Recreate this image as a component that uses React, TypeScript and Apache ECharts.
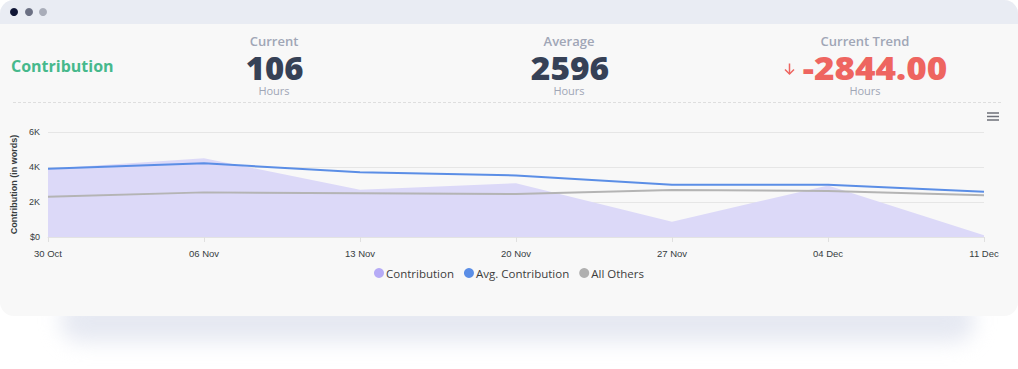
import React, { useEffect, useRef } from "react";
import * as echarts from "echarts";

const categories = ["30 Oct", "06 Nov", "13 Nov", "20 Nov", "27 Nov", "04 Dec", "11 Dec"];
const contribution = [3900, 4500, 2700, 3070, 870, 2950, 106];
const avgContribution = [3900, 4210, 3700, 3520, 2990, 2990, 2590];
const allOthers = [2300, 2550, 2500, 2460, 2680, 2630, 2380];
const yTicks = [0, 2000, 4000, 6000];

const kpis = [
  { label: "Current", value: "106", cx: 274, vx: 274.5, sx: 1.06, color: "#364156" },
  { label: "Average", value: "2596", cx: 569, vx: 570, sx: 1.08, color: "#364156" },
  { label: "Current Trend", value: "-2844.00", cx: 865, vx: 875, sx: 1.13, color: "#ee6560" },
];

const NUM_FONT = '"Open Sans", "Noto Sans", sans-serif';
const LEG_FONT = '"Open Sans", "Noto Sans", sans-serif';
const AX_FONT = '"Liberation Sans", Arial, sans-serif';

export default function App() {
  const ref = useRef<HTMLDivElement>(null);
  useEffect(() => {
    if (!ref.current) return;
    const chart = echarts.init(ref.current, null, { renderer: "svg" });
    const graphic: any[] = [];
    const dots = [
      { x: 14, c: "#0f1535" },
      { x: 29, c: "#6b7083" },
      { x: 43, c: "#a9adb9" },
    ];
    dots.forEach((d) =>
      graphic.push({ type: "circle", shape: { cx: d.x, cy: 12, r: 4 }, style: { fill: d.c }, silent: true })
    );
    graphic.push({
      type: "text",
      x: 11,
      y: 66,
      style: { text: "Contribution", fill: "#46b98c", font: `bold 16px ${NUM_FONT}`, textAlign: "left", textVerticalAlign: "middle" },
    });
    kpis.forEach((k) => {
      graphic.push({
        type: "text",
        x: k.cx,
        y: 41,
        style: { text: k.label, fill: "#a0a6b6", font: `600 13px ${NUM_FONT}`, lineHeight: 14, textAlign: "center", textVerticalAlign: "middle" },
      });
      graphic.push({
        type: "text",
        x: k.vx,
        y: 68,
        scaleX: k.sx,
        style: { text: k.value, fill: k.color, font: `800 31px ${NUM_FONT}`, lineHeight: 26, textAlign: "center", textVerticalAlign: "middle" },
      });
      graphic.push({
        type: "text",
        x: k.cx,
        y: 90,
        style: { text: "Hours", fill: "#a0a6b6", font: `500 11px ${NUM_FONT}`, lineHeight: 12, textAlign: "center", textVerticalAlign: "middle" },
      });
    });
    // down arrow
    graphic.push({
      type: "line",
      shape: { x1: 789.5, y1: 63.5, x2: 789.5, y2: 74 },
      style: { stroke: "#ee6560", lineWidth: 1.5 },
      silent: true,
    });
    graphic.push({
      type: "polyline",
      shape: { points: [[785, 69.5], [789.5, 74], [794, 69.5]] },
      style: { stroke: "#ee6560", lineWidth: 1.5, fill: "none" },
      silent: true,
    });
    graphic.push({
      type: "line",
      shape: { x1: 13, y1: 102.5, x2: 1003, y2: 102.5 },
      style: { stroke: "#dedede", lineWidth: 1, lineDash: [3, 2] },
      silent: true,
    });
    [113, 116.5, 120].forEach((y) =>
      graphic.push({
        type: "line",
        shape: { x1: 987, y1: y, x2: 999, y2: y },
        style: { stroke: "#6e7079", lineWidth: 1.5 },
        silent: true,
      })
    );

    chart.setOption({
      animation: false,
      backgroundColor: "transparent",
      graphic,
      grid: { left: 48, right: 34, top: 132, bottom: 132, containLabel: false },
      legend: {
        bottom: 85,
        left: "center",
        icon: "circle",
        itemWidth: 10,
        itemHeight: 10,
        itemGap: 10,
        textStyle: { fontFamily: LEG_FONT, fontSize: 11.5, color: "#3d3d3d", padding: [0, 0, 0, -3] },
        data: ["Contribution", "Avg. Contribution", "All Others"],
      },
      xAxis: {
        type: "category",
        data: categories,
        boundaryGap: false,
        axisLine: { show: true, lineStyle: { color: "#e3e3e3" } },
        axisTick: { show: true, length: 5, lineStyle: { color: "#e0e0e0" } },
        axisLabel: { fontFamily: AX_FONT, fontSize: 9.5, color: "#373d3f", margin: 11 },
        splitLine: { show: false },
      },
      yAxis: {
        type: "value",
        min: yTicks[0],
        max: yTicks[yTicks.length - 1],
        interval: 2000,
        name: "Contribution (in words)",
        nameLocation: "middle",
        nameGap: 30,
        nameTextStyle: { fontFamily: AX_FONT, fontSize: 9, fontWeight: "bold", color: "#373d3f" },
        axisLine: { show: false },
        axisTick: { show: false },
        axisLabel: {
          fontFamily: AX_FONT,
          fontSize: 9,
          color: "#373d3f",
          margin: 8,
          formatter: (v: number) => (v === 0 ? "$0" : v / 1000 + "K"),
        },
        splitLine: { show: true, lineStyle: { color: "#e6e6e6" } },
      },
      series: [
        {
          name: "Contribution",
          type: "line",
          data: contribution,
          symbol: "none",
          color: "#b6abf6",
          lineStyle: { width: 0, color: "#dcd9f8" },
          areaStyle: { color: "#dcd9f8", opacity: 1 },
          z: 1,
        },
        {
          name: "Avg. Contribution",
          type: "line",
          data: avgContribution,
          symbol: "none",
          color: "#5b8ee6",
          lineStyle: { width: 2, color: "#5b8ee6" },
          z: 3,
        },
        {
          name: "All Others",
          type: "line",
          data: allOthers,
          symbol: "none",
          color: "#b0b0b0",
          lineStyle: { width: 2, color: "#b4b4b4" },
          z: 2,
        },
      ],
    });
    return () => chart.dispose();
  }, []);

  return (
    <div style={{ position: "absolute", left: 0, top: 0, width: 1018, height: 369, background: "#ffffff", overflow: "hidden" }}>
      <div
        style={{
          position: "absolute",
          left: 60,
          width: 915,
          top: 300,
          height: 42,
          background: "rgba(222,225,238,0.75)",
          filter: "blur(10px)",
          borderRadius: 26,
        }}
      />
      <div
        style={{
          position: "absolute",
          left: 0,
          top: 0,
          width: 1018,
          height: 316,
          background: "#f8f8f8",
          borderRadius: 14,
          overflow: "hidden",
        }}
      >
        <div style={{ height: 24, background: "#e9ecf3" }} />
      </div>
      <div ref={ref} style={{ position: "absolute", left: 0, top: 0, width: 1018, height: 369 }} />
    </div>
  );
}
